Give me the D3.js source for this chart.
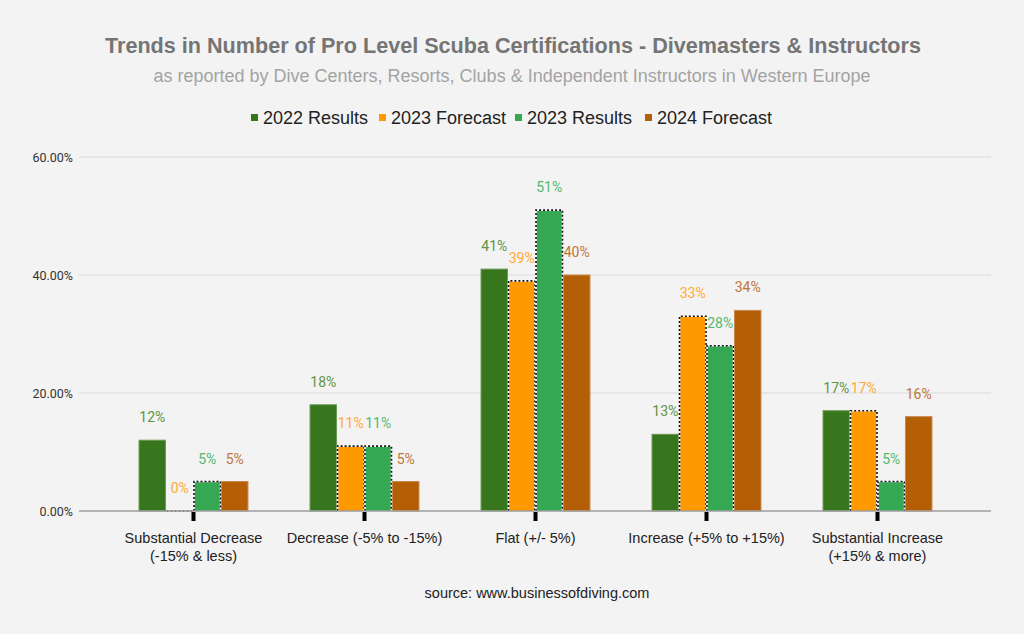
<!DOCTYPE html>
<html><head><meta charset="utf-8">
<script src="https://cdn.jsdelivr.net/npm/d3@7"></script>
<style>
html,body{margin:0;padding:0;background:#f3f3f3;}
svg{display:block;}
</style></head>
<body>
<svg id="chart" width="1024" height="634"></svg>
<script>
const categories = ["Substantial Decrease\n(-15% & less)", "Decrease (-5% to -15%)", "Flat (+/- 5%)", "Increase (+5% to +15%)", "Substantial Increase\n(+15% & more)"];
const seriesNames = ["2022 Results", "2023 Forecast", "2023 Results", "2024 Forecast"];
const results2022 = [12, 18, 41, 13, 17];
const forecast2023 = [0, 11, 39, 33, 17];
const results2023 = [5, 11, 51, 28, 5];
const forecast2024 = [5, 5, 40, 34, 16];
const yTicks = [0, 20, 40, 60];
const seriesValues = [results2022, forecast2023, results2023, forecast2024];
const colors = ["#38761d", "#ff9900", "#34a853", "#b45f06"];
const labelColors = ["#5f9443", "#ffab33", "#55b96f", "#c07636"];
const outlineColors = ["#6d9a55", null, null, "#c98a50"];
const dotted = [false, true, true, false];

const svg = d3.select("#chart");
const W = 1024, H = 634;
svg.append("rect").attr("width", W).attr("height", H).attr("fill", "#f3f3f3");

const gridLeft = 79, gridRight = 991;
const x0 = d3.scaleBand().domain(categories).range([108, 963]);
const groupW = x0.bandwidth() * 0.643;
const x1 = d3.scaleBand().domain(seriesNames).range([0, groupW]);
const y = d3.scaleLinear().domain([0, 60]).range([511, 157]);

// title
svg.append("text").attr("x", 513).attr("y", 53).attr("text-anchor", "middle")
  .attr("font-family", "Liberation Sans, Arial, sans-serif").attr("font-weight", "bold")
  .attr("font-size", 21.6).attr("fill", "#757575")
  .text("Trends in Number of Pro Level Scuba Certifications - Divemasters & Instructors");
svg.append("text").attr("x", 512).attr("y", 82).attr("text-anchor", "middle")
  .attr("font-family", "Liberation Sans, Arial, sans-serif")
  .attr("font-size", 18).attr("fill", "#a3a3a3")
  .text("as reported by Dive Centers, Resorts, Clubs & Independent Instructors in Western Europe");

// legend
const legendX = [255, 383, 519, 649];
const lg = svg.append("g");
seriesNames.forEach((s, i) => {
  lg.append("rect").attr("x", legendX[i] - 4).attr("y", 114).attr("width", 7).attr("height", 7).attr("fill", colors[i]);
  lg.append("text").attr("x", legendX[i] + 8).attr("y", 124)
    .attr("font-family", "Liberation Sans, Arial, sans-serif").attr("font-size", 18).attr("fill", "#222")
    .text(s);
});

// gridlines
const grid = svg.append("g");
yTicks.forEach(t => {
  if (t === 0) return;
  grid.append("line").attr("x1", gridLeft).attr("x2", gridRight).attr("y1", y(t)).attr("y2", y(t))
    .attr("stroke", "#dadada").attr("stroke-width", 1);
});
// y axis labels
const yAxis = d3.axisLeft(y).tickValues(yTicks).tickFormat(d => d.toFixed(2) + "%").tickSize(0).tickPadding(0);
const ya = svg.append("g").attr("transform", `translate(73,0)`).call(yAxis);
ya.select(".domain").remove();
ya.selectAll("text").attr("font-family", "Roboto, sans-serif").attr("font-size", 12.5).attr("fill", "#333");

// bars
const bars = svg.append("g");
categories.forEach((c, ci) => {
  const gx = x0(c) + (x0.bandwidth() - groupW) / 2;
  seriesNames.forEach((s, si) => {
    const v = seriesValues[si][ci];
    const bx = gx + x1(s) + 0.5;
    const bw = x1.bandwidth() - 1;
    const top = y(v);
    const h = y(0) - top;
    if (h > 0) {
      bars.append("rect").attr("x", bx).attr("y", top).attr("width", bw).attr("height", h)
        .attr("fill", colors[si])
        .attr("stroke", outlineColors[si] || "none").attr("stroke-width", outlineColors[si] ? 1 : 0);
    }
    if (dotted[si]) {
      const path = h > 0
        ? `M${bx},${y(0)}V${top}H${bx + bw}V${y(0)}`
        : `M${bx},${y(0)}H${bx + bw}`;
      bars.append("path").attr("d", path).attr("fill", "none").attr("stroke", "#fff").attr("stroke-width", 1.6);
      bars.append("path").attr("d", path).attr("fill", "none").attr("stroke", "#111").attr("stroke-width", 1.6)
        .attr("stroke-dasharray", "2,2");
    }
    bars.append("text").attr("x", bx + bw / 2).attr("y", top - 18).attr("text-anchor", "middle")
      .attr("font-family", "Roboto, sans-serif").attr("font-size", 14).attr("fill", labelColors[si])
      .text(v + "%");
  });
});

// zero axis line
svg.append("line").attr("x1", gridLeft).attr("x2", gridRight).attr("y1", y(0)).attr("y2", y(0))
  .attr("stroke", "#9e9e9e").attr("stroke-width", 1.5);

// x axis tick marks & labels
const xa = svg.append("g");
categories.forEach(c => {
  const cx = x0(c) + x0.bandwidth() / 2;
  xa.append("rect").attr("x", cx - 2).attr("y", y(0) + 1).attr("width", 4).attr("height", 9).attr("fill", "#000");
  const lines = c.split("\n");
  lines.forEach((ln, li) => {
    xa.append("text").attr("x", cx).attr("y", 543 + li * 18).attr("text-anchor", "middle")
      .attr("font-family", "Liberation Sans, Arial, sans-serif").attr("font-size", 14.5).attr("fill", "#222")
      .text(ln);
  });
});

// source
svg.append("text").attr("x", 537).attr("y", 598).attr("text-anchor", "middle")
  .attr("font-family", "Liberation Sans, Arial, sans-serif").attr("font-size", 14.5).attr("fill", "#222")
  .text("source: www.businessofdiving.com");
</script>
</body></html>
